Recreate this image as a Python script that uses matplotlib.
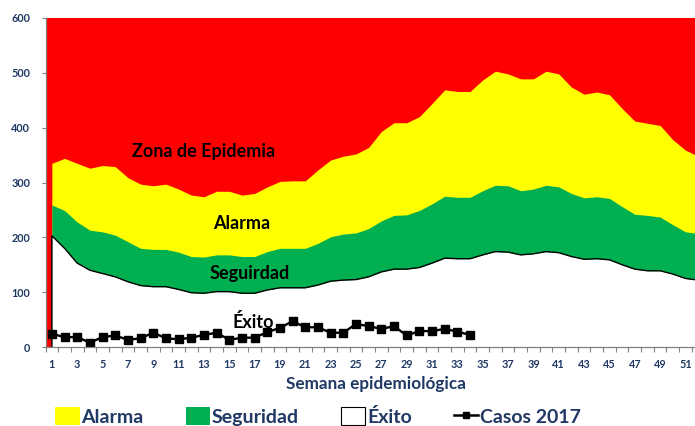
import matplotlib
matplotlib.use("Agg")
import matplotlib.pyplot as plt
from matplotlib.patches import Patch
from matplotlib.lines import Line2D
import numpy as np

plt.rcParams['font.family'] = ['Lato', 'DejaVu Sans']

weeks = list(range(1, 53))
exito_lim = [203, 180, 153, 140, 134, 128, 119, 112, 110, 110, 105, 99, 98, 101, 101, 98, 98,
             104, 108, 108, 108, 113, 120, 122, 123, 128, 137, 142, 142, 145, 153, 162, 161, 161,
             168, 174, 173, 168, 170, 174, 172, 165, 160, 161, 159, 150, 142, 139, 139, 133, 125, 122]
seguridad_lim = [259, 249, 228, 213, 210, 204, 192, 180, 178, 178, 173, 165, 164, 168, 168, 165, 165,
                 174, 180, 180, 180, 189, 201, 206, 208, 216, 230, 240, 241, 249, 261, 275, 273, 273,
                 285, 295, 294, 285, 288, 295, 292, 280, 272, 274, 271, 256, 242, 240, 237, 223, 210, 207]
alarma_lim = [335, 344, 335, 326, 331, 329, 309, 297, 294, 297, 288, 277, 274, 284, 284, 277, 280,
              292, 302, 303, 303, 323, 341, 348, 352, 364, 393, 409, 409, 420, 444, 469, 466, 466,
              487, 503, 498, 489, 489, 503, 498, 474, 461, 465, 460, 435, 412, 408, 404, 378, 359, 348]
casos_weeks = list(range(1, 35))
casos_2017 = [24, 18, 18, 8, 18, 21, 13, 16, 26, 16, 14, 17, 22, 26, 13, 17, 17,
              27, 35, 47, 36, 36, 26, 26, 42, 38, 33, 38, 21, 29, 29, 33, 28, 22]
xtick_labels = [str(w) for w in range(1, 52, 2)]

navy = '#1F3864'
RED, YEL, GRN = '#FF0000', '#FFFF00', '#00B050'

fig = plt.figure(figsize=(6.95, 4.26), dpi=100)
ax = fig.add_axes([45.5/695, 1-347/426, (695-45.5)/695, (347-18)/426])
ax.set_facecolor(RED)

w = np.array(weeks)
ax.fill_between(w, alarma_lim, 0, color=YEL, lw=0)
ax.fill_between(w, seguridad_lim, 0, color=GRN, lw=0)
ax.fill_between(w, exito_lim, 0, color='white', lw=0)
ax.plot([weeks[0]] + weeks, [0] + exito_lim, color='black', lw=1.0)

ax.plot(casos_weeks, casos_2017, color='black', lw=1.7, marker='s', ms=5.5)

ax.set_xlim(0.5, 51.75)
ax.set_ylim(0, 600)
ax.set_yticks(range(0, 601, 100))
ax.set_xticks(range(1, 52, 2))
ax.set_xticklabels(xtick_labels)
ax.set_xticks(np.arange(0.5, 52, 1), minor=True)
ax.tick_params(axis='x', which='major', length=0, pad=9, labelsize=7.8, labelcolor=navy)
ax.tick_params(axis='x', which='minor', length=3.5, color='#808080', width=0.8)
ax.tick_params(axis='y', length=3, color='#808080', width=0.8, pad=8, labelsize=7.8, labelcolor=navy)
for lab in ax.get_xticklabels() + ax.get_yticklabels():
    lab.set_fontweight('bold')
for s in ['top', 'right']:
    ax.spines[s].set_visible(False)
for s in ['left', 'bottom']:
    ax.spines[s].set_color('#808080')
    ax.spines[s].set_linewidth(0.9)

fs_in = 13
ax.text(12.96, 347, 'Zona de Epidemia', ha='center', va='baseline', fontsize=fs_in, fontweight='bold', color='black')
ax.text(16.0, 216, 'Alarma', ha='center', va='baseline', fontsize=fs_in, fontweight='bold', color='black')
ax.text(16.6, 124, 'Seguirdad', ha='center', va='baseline', fontsize=fs_in, fontweight='bold', color='black')
ax.text(16.9, 34, 'Éxito', ha='center', va='baseline', fontsize=fs_in, fontweight='bold', color='black')

fig.text(376/695, 1-384.5/426, 'Semana epidemiológica', ha='center', va='center',
         fontsize=12.3, fontweight='bold', color=navy)

handles = [Patch(facecolor=YEL, edgecolor='none'),
           Patch(facecolor=GRN, edgecolor='none'),
           Patch(facecolor='white', edgecolor='black', lw=0.8),
           Line2D([], [], color='black', lw=1.8, marker='s', ms=4)]
labels = ['Alarma', 'Seguridad', 'Éxito', 'Casos 2017']
leg = fig.legend(handles, labels, ncol=4, loc='center', bbox_to_anchor=(318/695, 1-416.5/426),
                 frameon=False, prop={'weight': 'bold', 'size': 14},
                 handlelength=1.25, handleheight=1.0, handletextpad=0.1, columnspacing=2.15,
                 borderpad=0, borderaxespad=0)
for t in leg.get_texts():
    t.set_color(navy)

fig.savefig('out.png', dpi=100)
